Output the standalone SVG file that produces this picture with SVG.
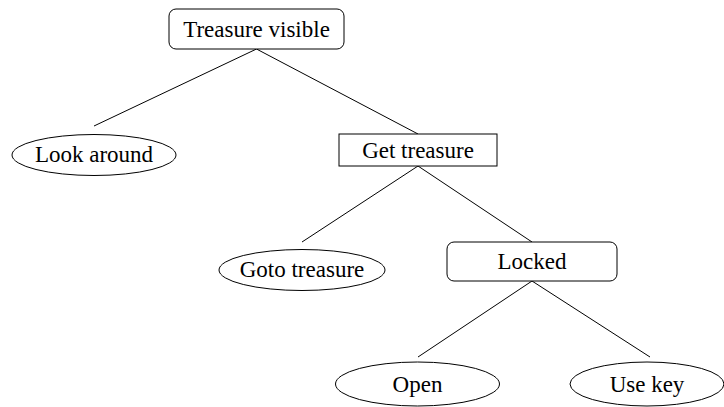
<svg xmlns="http://www.w3.org/2000/svg" width="724" height="407" viewBox="0 0 724 407">
  <style>
    .box { fill: #ffffff; stroke: #000000; stroke-width: 1; }
    .edge { stroke: #000000; stroke-width: 1; fill: none; }
    .label { font-family: "Liberation Serif", "Times New Roman", serif; font-size: 23px; fill: #000000; text-anchor: middle; }
  </style>
  <rect width="724" height="407" fill="#ffffff"/>

  <!-- tree edges -->
  <g id="connectors">
    <line class="edge" x1="256.5" y1="49" x2="94" y2="126"/>
    <line class="edge" x1="256.5" y1="49" x2="418" y2="134"/>
    <line class="edge" x1="418" y1="166" x2="302" y2="242"/>
    <line class="edge" x1="418" y1="166" x2="532" y2="242"/>
    <line class="edge" x1="532" y1="281" x2="418" y2="357"/>
    <line class="edge" x1="532" y1="281" x2="650" y2="357"/>
  </g>

  <g id="treasure-visible">
    <rect class="box" x="169" y="9" width="175" height="40" rx="7"/>
    <text class="label" x="256.5" y="37">Treasure visible</text>
  </g>

  <g id="look-around">
    <ellipse class="box" cx="94" cy="155" rx="82" ry="20.5"/>
    <text class="label" x="94" y="162">Look around</text>
  </g>

  <g id="get-treasure">
    <rect class="box" x="339" y="134" width="158" height="32"/>
    <text class="label" x="418" y="158">Get treasure</text>
  </g>

  <g id="goto-treasure">
    <ellipse class="box" cx="302" cy="270" rx="83" ry="20.5"/>
    <text class="label" x="302" y="277">Goto treasure</text>
  </g>

  <g id="locked">
    <rect class="box" x="447" y="242" width="170" height="39" rx="7"/>
    <text class="label" x="532" y="269">Locked</text>
  </g>

  <g id="open">
    <ellipse class="box" cx="417.5" cy="384" rx="82" ry="22"/>
    <text class="label" x="417.5" y="392">Open</text>
  </g>

  <g id="use-key">
    <ellipse class="box" cx="647" cy="384" rx="77" ry="22"/>
    <text class="label" x="647" y="392">Use key</text>
  </g>
</svg>
